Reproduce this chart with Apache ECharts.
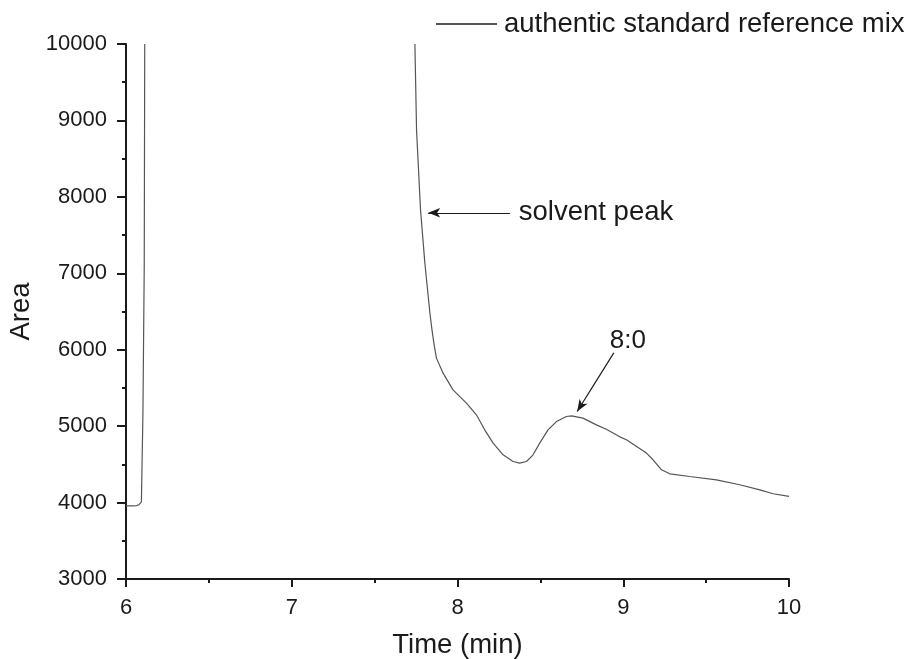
<!DOCTYPE html>
<html>
<head>
<meta charset="utf-8">
<script src="https://cdn.jsdelivr.net/npm/echarts@6/dist/echarts.min.js"></script>
<style>html,body{margin:0;padding:0;background:#fff}#c{width:912px;height:659px}</style>
</head>
<body>
<div id="c"></div>
<script>
// Data (Time in min, Area)
const seriesName = 'authentic standard reference mix';
const rise = [[6.0,3958],[6.04,3958],[6.064,3960],[6.08,3975],[6.093,4010],[6.096,4390],[6.102,5150],[6.110,7080],[6.113,10000]];
const fall = [[7.743,10000],[7.753,8870],[7.777,7830],[7.803,7134],[7.834,6470],[7.846,6260],[7.86,6050],[7.873,5890],[7.913,5693],[7.973,5475],[8.054,5301],[8.114,5148],[8.164,4952],[8.215,4778],[8.275,4625],[8.335,4537],[8.375,4516],[8.416,4537],[8.456,4625],[8.496,4778],[8.546,4952],[8.597,5060],[8.657,5126],[8.688,5135],[8.757,5105],[8.838,5017],[8.898,4960],[8.979,4860],[9.019,4821],[9.14,4647],[9.18,4560],[9.231,4429],[9.281,4376],[9.401,4341],[9.562,4298],[9.703,4233],[9.824,4167],[9.904,4115],[10.0,4080]];
const xTicks = [6,7,8,9,10];
const yTicks = [3000,4000,5000,6000,7000,8000,9000,10000];
const solventArrow = [[8.316,7792],[7.823,7792]];
const solventText = {text:'solvent peak', at:[8.37,7792]};
const peakArrow = [[8.943,5958],[8.722,5191]];
const peakText = {text:'8:0', at:[9.028,6117]};

const data = rise.concat([[6.5,'-']], fall);
const FONT = '"Liberation Sans", Arial, sans-serif';
const chart = echarts.init(document.getElementById('c'));
chart.setOption({
  animation:false,
  backgroundColor:'#fff',
  grid:{left:126, right:123, top:44, bottom:80, outerBoundsMode:'none', containLabel:false},
  legend:{
    data:[seriesName], left:435, top:10, padding:0,
    itemWidth:61, itemHeight:2,
    textStyle:{fontFamily:FONT, fontSize:27.5, color:'#1a1a1a', padding:[0,0,0,2]}
  },
  xAxis:{
    type:'value', min:xTicks[0], max:xTicks[xTicks.length-1], interval:1,
    name:'Time (min)', nameLocation:'middle', nameGap:52,
    nameTextStyle:{fontFamily:FONT, fontSize:27.5, color:'#1a1a1a'},
    axisLine:{show:true, onZero:false, lineStyle:{color:'#1a1a1a', width:2}},
    axisTick:{show:true, inside:false, length:8, lineStyle:{color:'#1a1a1a', width:2}},
    minorTick:{show:true, splitNumber:2, length:4, lineStyle:{color:'#1a1a1a', width:2}},
    axisLabel:{fontFamily:FONT, fontSize:22, color:'#1a1a1a', margin:18, formatter:v=>String(v)},
    splitLine:{show:false}
  },
  yAxis:{
    type:'value', min:yTicks[0], max:yTicks[yTicks.length-1], interval:1000,
    name:'Area', nameLocation:'middle', nameGap:80,
    nameTextStyle:{fontFamily:FONT, fontSize:27.5, color:'#1a1a1a'},
    axisLine:{show:true, onZero:false, lineStyle:{color:'#1a1a1a', width:2}},
    axisTick:{show:true, inside:false, length:9, lineStyle:{color:'#1a1a1a', width:2}},
    minorTick:{show:true, splitNumber:2, length:4, lineStyle:{color:'#1a1a1a', width:2}},
    axisLabel:{fontFamily:FONT, fontSize:22, color:'#1a1a1a', margin:19, formatter:v=>String(v)},
    splitLine:{show:false}
  },
  series:[{
    name:seriesName, type:'line', data:data, symbol:'none', showSymbol:false,
    clip:true, connectNulls:false,
    lineStyle:{color:'#555555', width:1.2},
    itemStyle:{color:'#555555'},
    markLine:{
      silent:true, animation:false,
      symbol:['none','arrow'], symbolSize:[7,12],
      label:{show:false},
      lineStyle:{color:'#1a1a1a', width:1.2, type:'solid'},
      data:[
        [{coord:solventArrow[0]},{coord:solventArrow[1]}],
        [{coord:peakArrow[0]},{coord:peakArrow[1]}]
      ]
    }
  }]
});
function place(){
  const a = chart.convertToPixel({gridIndex:0}, solventText.at);
  const b = chart.convertToPixel({gridIndex:0}, peakText.at);
  chart.setOption({graphic:[
    {type:'text', x:a[0], y:a[1], style:{text:solventText.text, font:'27.5px '+FONT, fill:'#1a1a1a', verticalAlign:'middle', align:'left'}},
    {type:'text', x:b[0], y:b[1], style:{text:peakText.text, font:'26px '+FONT, fill:'#1a1a1a', verticalAlign:'middle', align:'center'}}
  ]});
}
place();
</script>
</body>
</html>
